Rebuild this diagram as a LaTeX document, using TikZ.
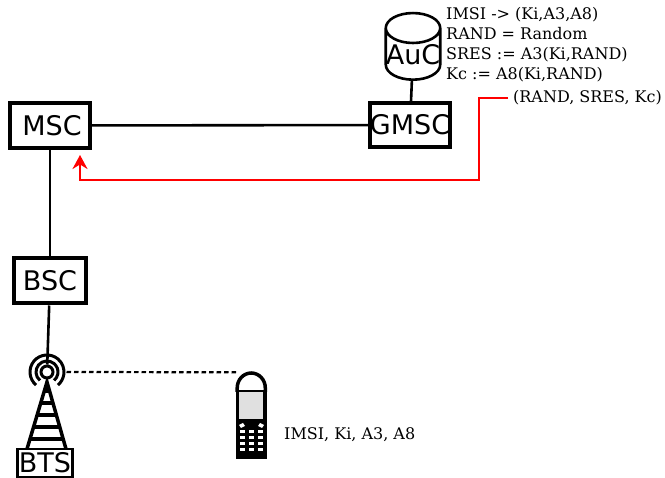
\documentclass[tikz,border=0pt]{standalone}
\usepackage{fontspec}
\usepackage{tikz}
\usetikzlibrary{arrows.meta,shapes.geometric,positioning,calc}
\newfontfamily\boxfont{DejaVu Sans}
\newfontfamily\notefont{DejaVu Serif}
\definecolor{screengray}{gray}{0.88}

\begin{document}
\begin{tikzpicture}[x=1pt,y=-1pt,
    netbox/.style={draw,line width=4pt,inner sep=0pt,font=\boxfont\fontsize{27}{30}\selectfont},
    note/.style={inner sep=0pt,font=\notefont\fontsize{16}{20}\selectfont},
    wire/.style={line width=2.6pt}]

                % Fixes the page to the size of the reference
                \useasboundingbox (0,0) rectangle (665,478);

                % Network elements
                \node[netbox,minimum width=80pt,minimum height=45pt] (msc) at (50,125.5) {\kern4pt MSC};
                \node[netbox,minimum width=80pt,minimum height=44pt] (gmsc) at (410,125) {GMSC};
                \node[netbox,minimum width=72pt,minimum height=45pt] (bsc) at (50,281) {BSC};
                \node[netbox,line width=2.6pt,minimum width=55pt,minimum height=28pt] (bts) at (45,463) {BTS};
                \node[draw,wire,cylinder,shape border rotate=90,aspect=0.55,inner sep=0pt,
                    minimum width=53pt,minimum height=62pt,
                    font=\boxfont\fontsize{27}{30}\selectfont] (auc) at (413,54.5) {AuC};

                % Texts
                \node[note,anchor=north west,align=left] (aucnote) at (446,7) {IMSI -> (Ki,A3,A8)\\RAND = Random\\SRES := A3(Ki,RAND)\\Kc := A8(Ki,RAND)};
                \node[note,anchor=west] (triplet) at (513,98) {(RAND, SRES, Kc)};
                \node[note,anchor=west] (simdata) at (284,435) {IMSI, Ki, A3, A8};

                % Antenna on top of the tower
                \node[draw,circle,line width=3pt,minimum size=12pt,inner sep=0pt] (antenna) at (47,372) {};
                \draw[line width=3pt] ($(antenna)+(130:11)$) arc[start angle=130,end angle=410,radius=11];
                \draw[line width=3pt] ($(antenna)+(130:17)$) arc[start angle=130,end angle=410,radius=17];

                % Tower
                \draw[line width=3.5pt,line join=miter] (27,449) -- (47,382) -- (66,449);
                \foreach \y/\dx in {391/3,403/7,415/10,427/14,439/17} {
                    \draw[line width=3.5pt] (47-\dx,\y) -- (47+\dx,\y);
                }

                % Phone
                \fill (235.5,459) rectangle (267,390);
                \draw[line width=3.5pt] (237.2,392) -- (237.2,388) arc[start angle=180,end angle=360,x radius=14.05,y radius=15] -- (265.3,392);
                \node[draw,fill=screengray,line width=1pt,minimum width=25pt,minimum height=28pt,inner sep=0pt] (screen) at (251,406) {};
                \foreach \y in {432,438,444,450} {
                    \foreach \x in {242,251.3,260.6} {
                        \fill[white] (\x-2.5,\y-1.5) rectangle (\x+2.5,\y+1.5);
                    }
                }
                \fill[white] (239,425) -- (243,423) -- (245,426) -- (241,428) -- cycle;
                \fill[white] (264,425) -- (260,423) -- (258,426) -- (262,428) -- cycle;
                \node[minimum width=30pt,minimum height=85pt,inner sep=0pt] (phone) at (251.5,415) {};

                % Links
                \draw[wire] (msc) -- (gmsc);
                \draw[wire] (msc) -- (bsc);
                \draw[wire] (gmsc) -- (auc);
                \draw[wire] (bsc) -- (antenna);
                \draw[line width=2.2pt,dash pattern=on 4.5pt off 3pt] (antenna.east) ++(12,0) -- (phone.north west);

                % Red path of the triplet
                \coordinate (mscin) at (80,155);
                \draw[red,wire,-{Stealth[length=14pt,width=15pt]}] (triplet.west) ++(-5,0) -- ++(-29,0) |- (mscin |- 0,180) -- (mscin);
            \end{tikzpicture}
\end{document}
